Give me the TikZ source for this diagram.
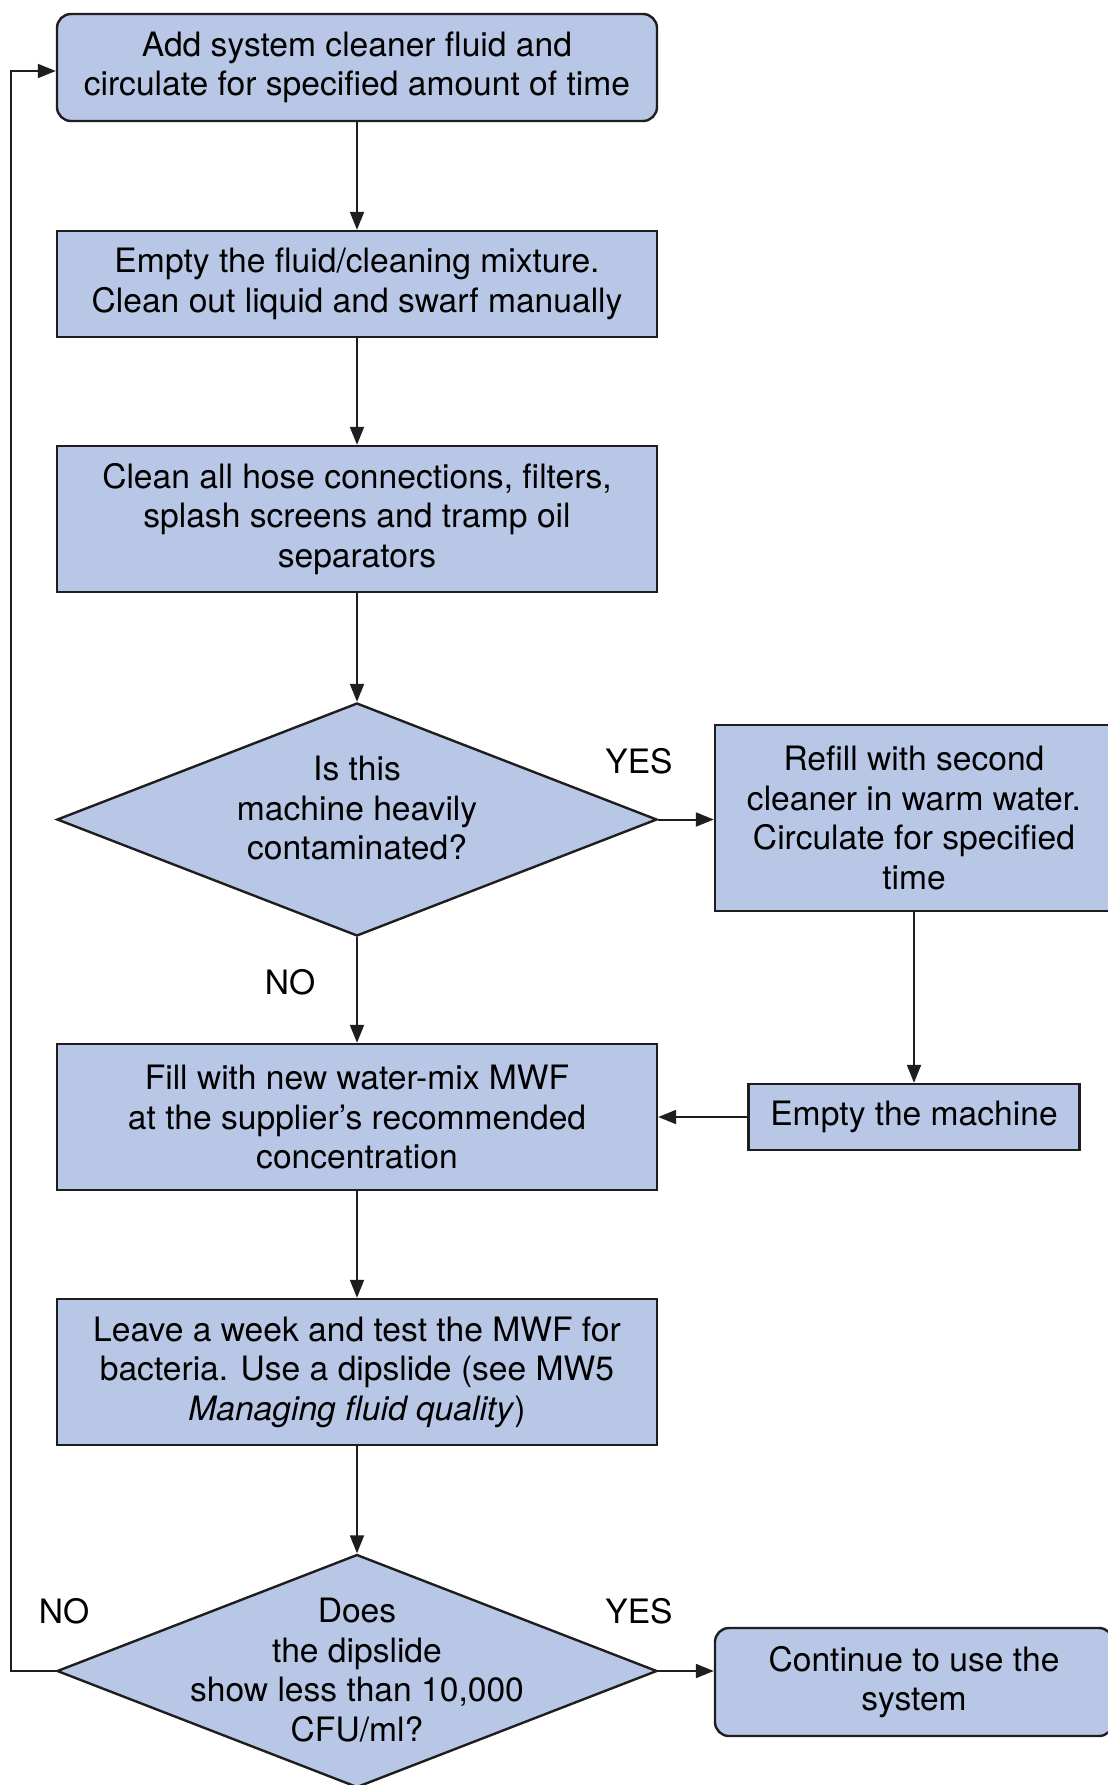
\documentclass[tikz,border=0pt]{standalone}
\usepackage{fontspec}
\setmainfont{TeX Gyre Heros}
\usetikzlibrary{shapes.geometric,arrows.meta}
\definecolor{boxblue}{RGB}{185,199,230}
\definecolor{edge}{RGB}{30,30,30}
\tikzset{
  base/.style={draw=edge,fill=boxblue,line width=1.2pt,align=center,inner sep=0pt,
    font=\fontsize{16.8}{19.7}\selectfont},
  sqbox/.style={base,rectangle,minimum width=300pt},
  rdbox/.style={base,rectangle,rounded corners=7pt,minimum width=300pt},
  dia/.style={base,diamond,minimum width=300pt,minimum height=116.5pt},
  txt/.style={align=center,inner sep=0pt,font=\fontsize{16.8}{19.7}\selectfont},
  lbl/.style={inner sep=0pt,font=\fontsize{16.8}{19.7}\selectfont},
  conn/.style={draw=edge,line width=1pt,-{Triangle[length=9pt,width=7pt]}},
}
\begin{document}
\begin{tikzpicture}[x=0.5pt,y=-0.5pt]
\useasboundingbox[fill=white] (0,0) rectangle (1108,1785);
\node[rdbox,minimum height=53.5pt] (b1) at (357,67.5) {Add system cleaner fluid and\\circulate for specified amount of time};
\node[sqbox,minimum height=53pt] (b2) at (357,284) {Empty the fluid/cleaning mixture.\\Clean out liquid and swarf manually};
\node[sqbox,minimum height=73pt] (b3) at (357,519) {Clean all hose connections, filters,\\splash screens and tramp oil\\separators};
\node[dia] (d1) at (357,819.5) {};
\node[txt] at (357,808) {Is this\\machine heavily\\contaminated?};
\node[sqbox,minimum width=199pt,minimum height=93pt] (b4) at (914,818) {Refill with second\\cleaner in warm water.\\Circulate for specified\\time};
\node[sqbox,minimum height=73pt] (b5) at (357,1117) {Fill with new water-mix MWF\\at the supplier’s recommended\\concentration};
\node[sqbox,minimum width=165.5pt,minimum height=33pt] (b6) at (914,1117) {Empty the machine};
\node[sqbox,minimum height=73pt] (b7) at (357,1372) {Leave a week and test the MWF for\\bacteria. Use a dipslide (see MW5\\\textit{Managing fluid quality})};
\node[dia] (d2) at (357,1671) {};
\node[txt] at (357,1670) {Does\\the dipslide\\show less than 10,000\\CFU/ml?};
\node[rdbox,minimum width=199pt,minimum height=54pt] (b8) at (914,1682) {Continue to use the\\system};
\node[lbl] (y1) at (639,761) {YES};
\node[lbl] (n1) at (290,982) {NO};
\node[lbl] (y2) at (639,1611) {YES};
\node[lbl] (n2) at (64,1611) {NO};
\coordinate (lb) at (11,1671);
\coordinate (lt) at (11,71);
\draw[conn] (b1) -- (b2);
\draw[conn] (b2) -- (b3);
\draw[conn] (b3) -- (d1);
\draw[conn] (d1.east) -- (d1.east -| b4.west);
\draw[conn] (d1) -- (b5);
\draw[conn] (b4) -- (b6);
\draw[conn] (b6) -- (b5);
\draw[conn] (b5) -- (b7);
\draw[conn] (b7) -- (d2);
\draw[conn] (d2.east) -- (d2.east -| b8.west);
\draw[conn] (d2.west) -- (lb) -- (lt) -- (lt -| b1.west);
\end{tikzpicture}
\end{document}
